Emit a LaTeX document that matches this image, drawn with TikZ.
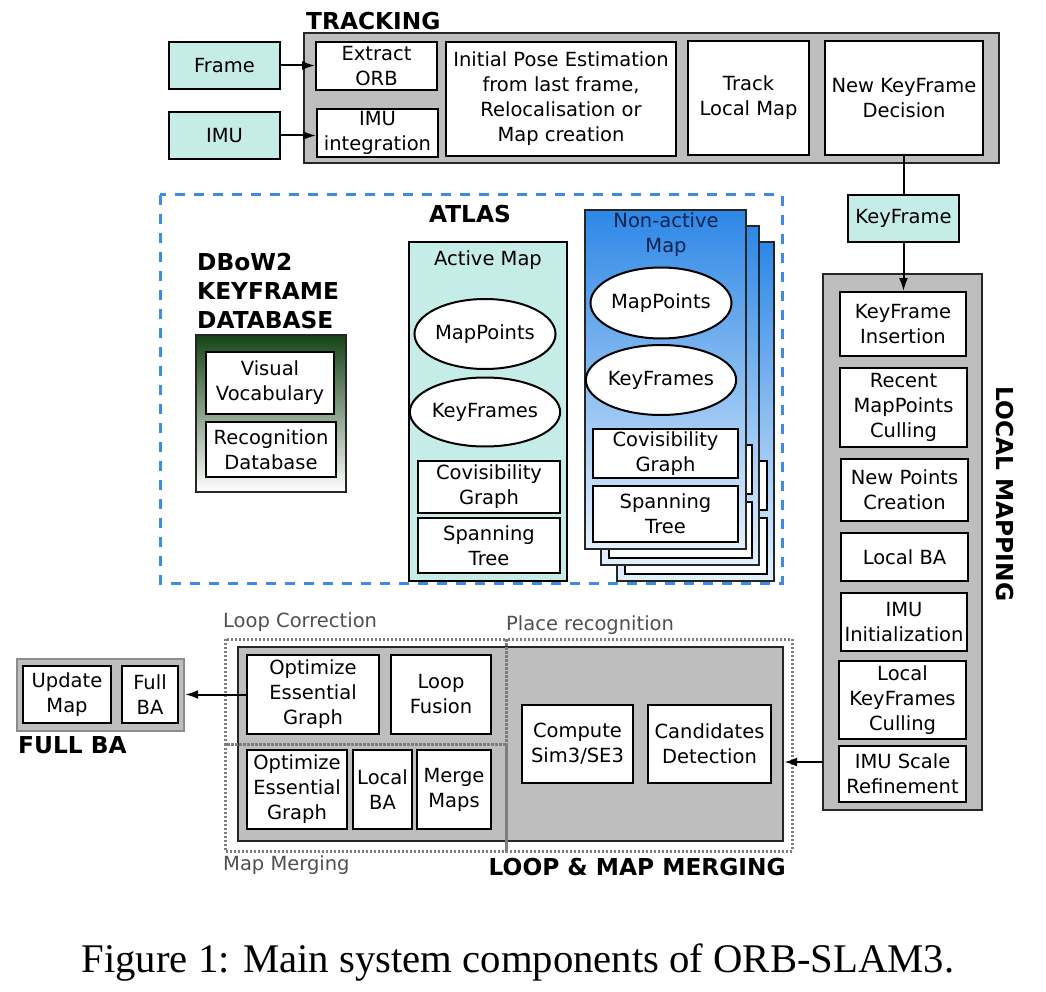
\documentclass[tikz,border=0pt]{standalone}
\usepackage{fontspec}
\setmainfont{DejaVu Sans}
\newfontfamily\capfont{Liberation Serif}
\usetikzlibrary{arrows.meta,shapes.geometric}
\definecolor{teal1}{RGB}{198,236,231}
\definecolor{grayfill}{RGB}{190,190,190}
\definecolor{atlasblue}{RGB}{60,140,225}
\definecolor{naTop}{RGB}{45,135,230}
\definecolor{naBot}{RGB}{228,240,252}
\definecolor{navytext}{RGB}{10,35,80}
\definecolor{dboTop}{RGB}{22,68,22}
\definecolor{dotgray}{RGB}{125,125,125}
\definecolor{labelgray}{RGB}{80,80,80}
\newcommand{\txt}{\fontsize{19.5}{25}\selectfont}
\newcommand{\ttl}{\fontsize{23.3}{29}\selectfont\bfseries}
% name, x1, y1, x2, y2, style, text
\newcommand{\mybox}[7]{%
  \node[#6, minimum width={(#4)-(#2)}, minimum height={(#5)-(#3)}] (#1)
    at ({((#2)+(#4))/2},{((#3)+(#5))/2}) {#7};}
\tikzset{
  tb/.style={draw=black, line width=2pt, fill=white, inner sep=0pt, align=center, font=\txt},
  tealbox/.style={tb, fill=teal1},
  outerbox/.style={draw=black!85, line width=2.4pt, fill=grayfill, inner sep=0pt},
  ell/.style={ellipse, draw=black, line width=2pt, fill=white, inner sep=0pt, font=\txt},
  card/.style={draw=black!85, line width=2pt, top color=naTop, bottom color=naBot, inner sep=0pt},
  dotbox/.style={draw=dotgray, line width=3pt, dash pattern=on 2pt off 2pt},
  title/.style={inner sep=0pt, font=\ttl},
  sublabel/.style={inner sep=0pt, font=\txt, text=labelgray},
  arr/.style={line width=2pt, -{Latex[length=13pt,width=9pt]}},
  conn/.style={line width=2pt}
}
\begin{document}
\begin{tikzpicture}[x=1pt,y=-1pt]
\useasboundingbox[fill=white] (0,0) rectangle (1046,992);

% ---------------- TRACKING ----------------
\mybox{trk}{304}{33}{999}{163}{outerbox}{}
\node[title, anchor=west] (trkT) at (306,21) {TRACKING};
\mybox{frame}{169}{42}{280}{89}{tealbox}{Frame}
\mybox{imu}{169}{112}{280}{159}{tealbox}{IMU}
\mybox{eorb}{316}{42}{437}{90}{tb}{Extract\\ORB}
\mybox{imuint}{317}{109}{438}{157}{tb}{IMU\\integration}
\mybox{ipe}{446}{42}{676}{156}{tb}{Initial Pose Estimation\\from last frame,\\Relocalisation or\\Map creation}
\mybox{tlm}{688}{41}{809}{155}{tb}{Track\\Local Map}
\mybox{nkd}{825}{41}{983}{155}{tb}{New KeyFrame\\Decision}
\draw[arr] (frame.east) -- (frame.east -| eorb.west);
\draw[arr] (imu.east) -- (imu.east -| imuint.west);

\mybox{kf}{848}{195}{959}{242}{tealbox}{KeyFrame}
\draw[conn] (kf.north |- nkd.south) -- (kf.north);

% ---------------- LOCAL MAPPING ----------------
\mybox{lm}{823}{274}{982}{810}{outerbox}{}
\node[title, rotate=-90] (lmT) at (1005,494) {LOCAL MAPPING};
\mybox{kfi}{840}{292}{966}{356}{tb}{KeyFrame\\Insertion}
\mybox{rmc}{840}{368}{967}{447}{tb}{Recent\\MapPoints\\Culling}
\mybox{npc}{841}{459}{968}{521}{tb}{New Points\\Creation}
\mybox{lba}{841}{533}{968}{581}{tb}{Local BA}
\mybox{imuinit}{841}{593}{967}{651}{tb}{IMU\\Initialization}
\mybox{lkfc}{839}{661}{966}{739}{tb}{Local\\KeyFrames\\Culling}
\mybox{imusr}{839}{746}{966}{802}{tb}{IMU Scale\\Refinement}
\draw[arr] (kf.south) -- (kf.south |- kfi.north);

% ---------------- ATLAS ----------------
\draw[draw=atlasblue, line width=3pt, dash pattern=on 10pt off 9pt] (160,195) rectangle (782,583);
\node[title] (atlasT) at (470,214) {ATLAS};

% DBoW2
\node[title, anchor=west, align=left] (dbT) at (197,291) {DBoW2\\KEYFRAME\\DATABASE};
\mybox{dbo}{196}{335}{346}{492}{outerbox, top color=dboTop, bottom color=white}{}
\mybox{vv}{206}{352}{334}{414}{tb}{Visual\\Vocabulary}
\mybox{rd}{206}{422}{336}{477}{tb}{Recognition\\Database}

% Active map
\mybox{am}{409}{242}{567}{581}{tb, fill=teal1}{}
\node[inner sep=0pt, font=\txt] (amT) at (488,260) {Active Map};
\node[ell, minimum width=134pt, minimum height=70pt] (mp1) at (485,334) {MapPoints};
\node[ell, minimum width=134pt, minimum height=69pt] (kf1) at (485,412) {KeyFrames};
\mybox{cg1}{418}{461}{560}{513}{tb}{Covisibility\\Graph}
\mybox{st1}{418}{518}{560}{573}{tb}{Spanning\\Tree}

% Non-active maps (stack)
\mybox{na3}{617}{242}{774}{581}{card}{}
\mybox{cg3}{625}{461}{767}{510}{tb}{}
\mybox{st3}{625}{518}{767}{574}{tb}{}
\mybox{na2}{601}{226}{759}{565}{card}{}
\mybox{cg2}{609}{445}{752}{494}{tb}{}
\mybox{st2}{609}{502}{752}{558}{tb}{}
\mybox{na1}{585}{210}{746}{549}{card}{}
\node[inner sep=0pt, font=\txt, align=center, text=navytext] (naT) at (666,235) {Non-active\\Map};
\node[ell, minimum width=138pt, minimum height=71pt] (mp2) at (661,303) {MapPoints};
\node[ell, minimum width=137pt, minimum height=70pt] (kf2) at (661,380) {KeyFrames};
\mybox{cg}{593}{429}{738}{478}{tb}{Covisibility\\Graph}
\mybox{st}{593}{486}{738}{542}{tb}{Spanning\\Tree}

% ---------------- LOOP & MAP MERGING ----------------
\mybox{loop}{238}{647}{783}{841}{outerbox}{}
\mybox{oeg1}{247}{655}{379}{734}{tb}{Optimize\\Essential\\Graph}
\mybox{lf}{391}{655}{491}{734}{tb}{Loop\\Fusion}
\mybox{oeg2}{247}{750}{347}{829}{tb}{Optimize\\Essential\\Graph}
\mybox{lba2}{353}{750}{412}{829}{tb}{Local\\BA}
\mybox{mm}{417}{750}{491}{829}{tb}{Merge\\Maps}
\mybox{cs}{522}{705}{633}{783}{tb}{Compute\\Sim3/SE3}
\mybox{cd}{648}{705}{771}{783}{tb}{Candidates\\Detection}
\draw[dotbox] (225,639) rectangle (506,744);
\draw[dotbox] (225,744) rectangle (506,851);
\draw[dotbox] (506,639) rectangle (792,851);
\node[sublabel, anchor=west] (lcT) at (223,622) {Loop Correction};
\node[sublabel, anchor=west] (prT) at (506,625) {Place recognition};
\node[sublabel, anchor=west] (mmT) at (223,865) {Map Merging};
\node[title, anchor=east] (lmmT) at (786,867) {LOOP \& MAP MERGING};
\coordinate (lmout) at (823,762);
\draw[arr] (lmout) -- (lmout -| loop.east);

% ---------------- FULL BA ----------------
\mybox{fba}{17}{659}{184}{731}{outerbox, draw=black!45}{}
\mybox{um}{23}{666}{111}{723}{tb}{Update\\Map}
\mybox{fullba}{122}{666}{178}{723}{tb}{Full\\BA}
\node[title, anchor=west] (fbaT) at (18,745) {FULL BA};
\draw[arr] (oeg1.west) -- (oeg1.west -| fba.east);

% ---------------- Caption ----------------
\node[inner sep=0pt, anchor=base, font=\capfont\fontsize{40.7}{48}\selectfont] (cap) at (518,972) {Figure 1: Main system components of ORB-SLAM3.};
\end{tikzpicture}
\end{document}
